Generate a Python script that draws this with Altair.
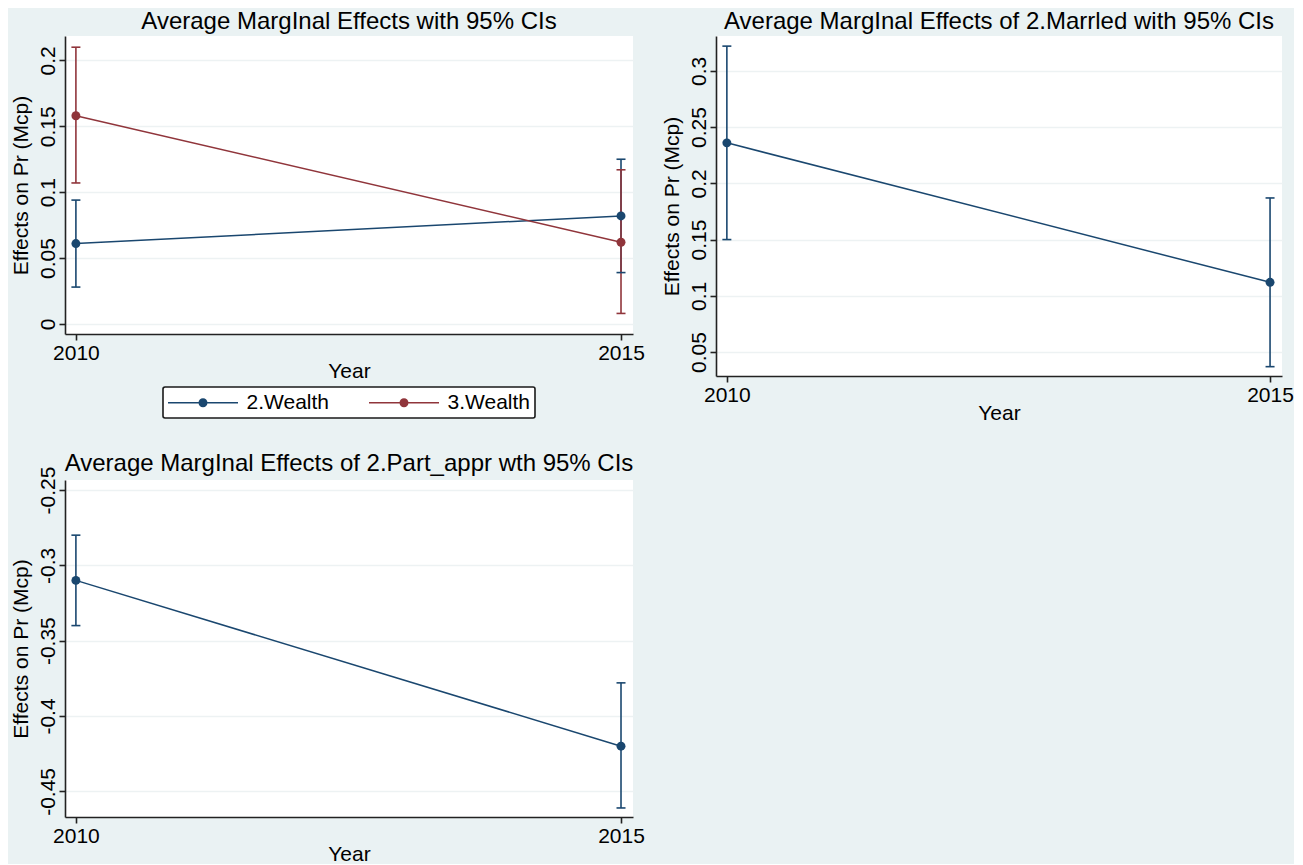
import altair as alt
import pandas as pd

# ---------------- data ----------------
years = [2010, 2015]

wealth2_est = [0.061, 0.082]
wealth2_lo = [0.028, 0.039]
wealth2_hi = [0.094, 0.125]

wealth3_est = [0.158, 0.062]
wealth3_lo = [0.107, 0.008]
wealth3_hi = [0.210, 0.117]

married_est = [0.236, 0.112]
married_lo = [0.150, 0.037]
married_hi = [0.322, 0.187]

part_est = [-0.310, -0.420]
part_lo = [-0.340, -0.461]
part_hi = [-0.280, -0.378]

series_names = ["2.Wealth", "3.Wealth"]
series_colors = ["#1a476f", "#90353b"]

titles = [
    "Average MargInal Effects with 95% CIs",
    "Average MargInal Effects of 2.Marrled with 95% CIs",
    "Average MargInal Effects of 2.Part_appr wth 95% CIs",
]
y_title = "Effects on Pr (Mcp)"
x_title = "Year"

y_ticks_1 = [0, 0.05, 0.1, 0.15, 0.2]
y_ticks_2 = [0.05, 0.1, 0.15, 0.2, 0.25, 0.3]
y_ticks_3 = [-0.45, -0.4, -0.35, -0.3, -0.25]

FONT = "Liberation Sans"
NAVY = series_colors[0]
X_DOMAIN = [2009.9, 2015.11]

# legend symbol: a line with a dot in the middle (Stata style)
LEG_PATH = ("M-7,-0.14L7,-0.14L7,0.14L-7,0.14Z "
            "M0.9,0A0.9,0.9,0,1,1,-0.9,0A0.9,0.9,0,1,1,0.9,0Z")


def frame(name, est, lo, hi):
    return pd.DataFrame({"series": name, "grp": name, "year": years,
                         "est": est, "lo": lo, "hi": hi})


df1 = pd.concat([frame(series_names[0], wealth2_est, wealth2_lo, wealth2_hi),
                 frame(series_names[1], wealth3_est, wealth3_lo, wealth3_hi)],
                ignore_index=True)
df2 = frame("2.Married", married_est, married_lo, married_hi)
df3 = frame("2.Part_appr", part_est, part_lo, part_hi)

LABEL_EXPR = "replace(format(datum.value, '~g'), '\u2212', '-')"


def panel(df, title, ydomain, yticks, width, height, title_offset=2, legend=None):
    x = alt.X("year:Q", title=x_title,
              scale=alt.Scale(domain=X_DOMAIN, nice=False, zero=False),
              axis=alt.Axis(values=years, format="d", grid=False, labelPadding=2,
                            titlePadding=-3, labelFlush=False))
    y_enc = dict(
        title=y_title,
        scale=alt.Scale(domain=ydomain, nice=False, zero=False),
        axis=alt.Axis(values=yticks, grid=True, labelAngle=270, labelAlign="center",
                      labelBaseline="bottom", labelPadding=1, titlePadding=6,
                      labelExpr=LABEL_EXPR),
    )
    base = alt.Chart(df)
    if legend is None:
        stroke = alt.value(NAVY)
        fill = alt.value(NAVY)
    else:
        # strokes keyed on a separate field with a data-derived domain, so their
        # hidden legend is never merged with the visible fill legend
        stroke = alt.Stroke("grp:N", scale=alt.Scale(range=series_colors), legend=None)
        fill = alt.Fill("series:N", scale=alt.Scale(domain=series_names, range=series_colors),
                        legend=legend)

    rules = base.mark_rule(strokeWidth=1.6).encode(
        x=x, y=alt.Y("lo:Q", **y_enc), y2="hi:Q", stroke=stroke)
    cap_lo = base.mark_rule(strokeWidth=1.6, xOffset=-4.5, x2Offset=4.5).encode(
        x=x, x2="year:Q", y=alt.Y("lo:Q", **y_enc), stroke=stroke)
    cap_hi = base.mark_rule(strokeWidth=1.6, xOffset=-4.5, x2Offset=4.5).encode(
        x=x, x2="year:Q", y=alt.Y("hi:Q", **y_enc), stroke=stroke)
    line = base.mark_line(strokeWidth=1.5).encode(
        x=x, y=alt.Y("est:Q", **y_enc), stroke=stroke, detail="series:N")
    pts = base.mark_point(filled=True, size=80, opacity=1).encode(
        x=x, y=alt.Y("est:Q", **y_enc), fill=fill)
    return alt.layer(rules, cap_lo, cap_hi, line, pts).properties(
        width=width, height=height,
        title=alt.TitleParams(title, anchor="middle", offset=title_offset))


H1, H2, H3 = 298, 340, 337

leg = alt.Legend(
    orient="none", legendX=98, legendY=H1 + 53, direction="horizontal",
    title=None, symbolType=LEG_PATH, symbolSize=100, symbolStrokeWidth=0,
    symbolOffset=24.5, labelOffset=33, labelFontSize=21, labelFont=FONT,
    labelColor="#000000", strokeColor="#1a1a1a", fillColor="#ffffff",
    padding=5, columnPadding=40, cornerRadius=2, symbolOpacity=1,
)

p1 = panel(df1, titles[0], [-0.0076, 0.2185], y_ticks_1, 568, H1, legend=leg)
p2 = panel(df2, titles[1], [0.0287, 0.331], y_ticks_2, 566, H2)
p3 = panel(df3, titles[2], [-0.467, -0.2434], y_ticks_3, 568, H3, title_offset=-10)

row1 = alt.hconcat(p1, p2, spacing=16)
chart = alt.vconcat(row1, p3, spacing=29).properties(
    padding={"left": 2, "top": 2, "right": 0, "bottom": 0},
    background="#eaf2f3",
).configure_view(
    stroke=None, fill="#ffffff"
).configure_axis(
    domainColor="#222222", domainWidth=1.6, tickColor="#222222", tickWidth=1.6,
    tickSize=6, labelFont=FONT, labelFontSize=21, labelColor="#000000",
    titleFont=FONT, titleFontSize=21, titleFontWeight="normal", titleColor="#000000",
    gridColor="#edf2f3", gridWidth=1.5,
).configure_title(
    font=FONT, fontSize=24, fontWeight="normal", color="#000000",
).configure_legend(
    strokeWidth=1.6,
)

chart.save("out.html", embed_options={"renderer": "svg", "actions": False})
